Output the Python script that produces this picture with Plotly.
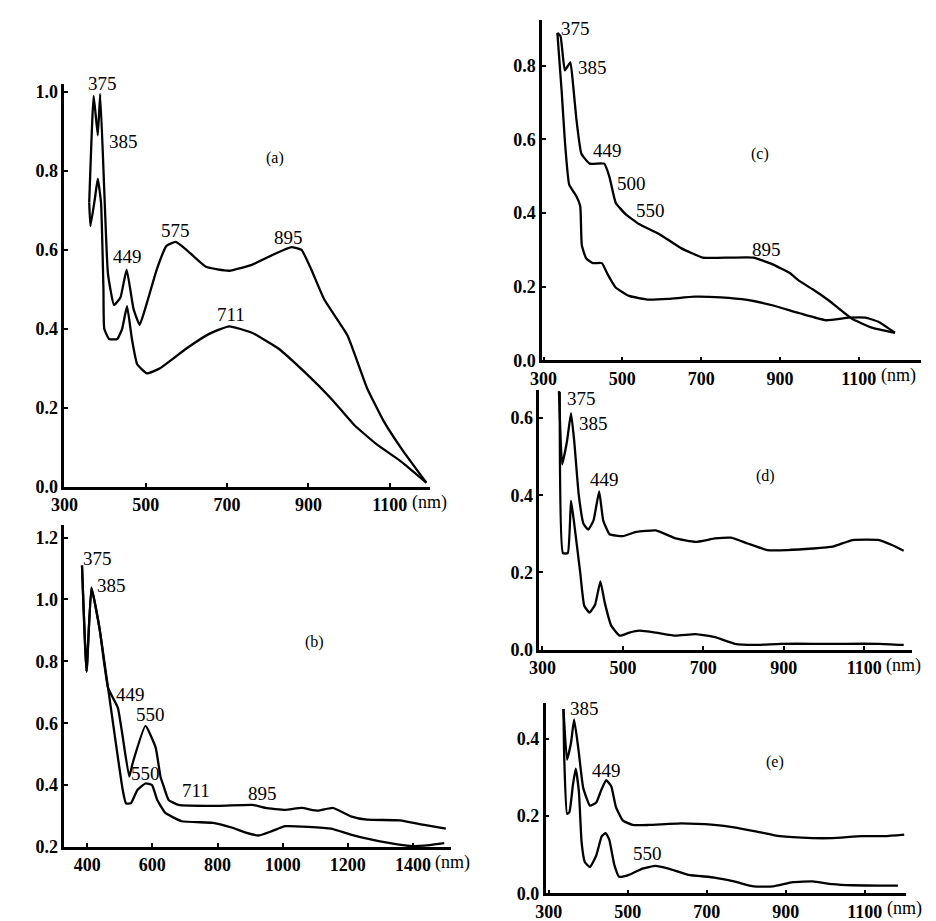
import plotly.graph_objects as go

# panel (a)
a_up_nm = [361, 372, 382, 388, 398, 407, 422, 438, 453, 470, 485, 503, 527, 551, 574, 600,
           648, 705, 761, 818, 858, 883, 907, 939, 996, 1044, 1085, 1133, 1190]
a_up_abs = [0.72, 0.99, 0.89, 0.995, 0.75, 0.54, 0.46, 0.48, 0.55, 0.45, 0.41, 0.466, 0.55, 0.61,
            0.62, 0.60, 0.557, 0.547, 0.562, 0.59, 0.607, 0.60, 0.55, 0.474, 0.383, 0.25, 0.166,
            0.09, 0.01]
a_lo_nm = [361, 364, 375, 382, 390, 396, 398, 410, 430, 442, 454, 466, 479, 503, 535, 600, 656,
           705, 761, 826, 891, 955, 1012, 1068, 1125, 1190]
a_lo_abs = [0.72, 0.66, 0.73, 0.78, 0.72, 0.50, 0.40, 0.374, 0.374, 0.40, 0.457, 0.374, 0.31,
            0.287, 0.30, 0.35, 0.387, 0.406, 0.39, 0.35, 0.29, 0.224, 0.157, 0.107, 0.066, 0.01]

# panel (b)
b_up_nm = [384, 398, 413, 438, 464, 494, 529, 539, 579, 610, 625, 635, 650, 680, 806, 907, 947,
           1008, 1058, 1108, 1154, 1209, 1259, 1360, 1430, 1501]
b_up_abs = [1.11, 0.767, 1.038, 0.905, 0.714, 0.65, 0.427, 0.469, 0.591, 0.522, 0.427, 0.395,
            0.352, 0.336, 0.333, 0.336, 0.326, 0.32, 0.326, 0.317, 0.326, 0.299, 0.288, 0.286,
            0.272, 0.259]
b_lo_nm = [384, 398, 413, 438, 464, 509, 519, 534, 554, 579, 599, 615, 640, 690, 786, 846, 887,
           927, 967, 1008, 1078, 1149, 1209, 1270, 1330, 1390, 1451, 1496]
b_lo_abs = [1.11, 0.767, 1.038, 0.905, 0.714, 0.384, 0.341, 0.341, 0.384, 0.405, 0.4, 0.352,
            0.31, 0.283, 0.278, 0.262, 0.246, 0.237, 0.251, 0.267, 0.265, 0.259, 0.24, 0.224,
            0.212, 0.203, 0.206, 0.212]

# panel (c)
c_up_nm = [335, 343, 354, 368, 375, 383, 396, 417, 454, 467, 483, 508, 542, 592, 650, 704, 775,
           833, 883, 925, 950, 983, 1025, 1083, 1133, 1192]
c_up_abs = [0.889, 0.88, 0.787, 0.809, 0.747, 0.658, 0.561, 0.534, 0.534, 0.499, 0.428, 0.397,
            0.370, 0.344, 0.304, 0.279, 0.279, 0.279, 0.260, 0.237, 0.215, 0.193, 0.162, 0.113,
            0.089, 0.075]
c_lo_nm = [335, 346, 354, 365, 383, 393, 397, 408, 425, 448, 463, 483, 517, 567, 617, 683, 750,
           817, 883, 950, 1017, 1075, 1117, 1150, 1192]
c_lo_abs = [0.889, 0.729, 0.596, 0.477, 0.446, 0.419, 0.313, 0.277, 0.264, 0.264, 0.233, 0.198,
            0.175, 0.165, 0.167, 0.173, 0.171, 0.164, 0.149, 0.128, 0.109, 0.116, 0.116, 0.105,
            0.075]

# panel (d)
d_up_nm = [341, 349, 361, 371, 379, 390, 402, 414, 427, 441, 451, 467, 500, 533, 582, 631, 680,
           729, 769, 810, 859, 908, 973, 1022, 1071, 1137, 1169, 1198]
d_up_abs = [0.67, 0.48, 0.54, 0.613, 0.54, 0.403, 0.326, 0.311, 0.335, 0.41, 0.335, 0.299, 0.294,
            0.305, 0.309, 0.288, 0.279, 0.288, 0.29, 0.275, 0.258, 0.258, 0.262, 0.267, 0.284,
            0.284, 0.271, 0.256]
d_lo_nm = [343, 351, 363, 371, 379, 394, 404, 417, 431, 444, 455, 471, 492, 516, 541, 582, 631,
           680, 729, 778, 827, 892, 973, 1055, 1137, 1198]
d_lo_abs = [0.668, 0.25, 0.25, 0.386, 0.326, 0.198, 0.113, 0.096, 0.117, 0.177, 0.121, 0.062,
            0.036, 0.044, 0.049, 0.044, 0.036, 0.04, 0.032, 0.015, 0.012, 0.015, 0.015, 0.015,
            0.015, 0.012]

# panel (e)
e_up_nm = [337, 346, 356, 364, 375, 387, 404, 420, 433, 445, 458, 470, 487, 512, 553, 636, 719,
           769, 827, 885, 968, 1018, 1093, 1151, 1200]
e_up_abs = [0.477, 0.346, 0.389, 0.45, 0.372, 0.273, 0.227, 0.235, 0.268, 0.293, 0.277, 0.223,
            0.189, 0.177, 0.177, 0.181, 0.177, 0.171, 0.16, 0.148, 0.143, 0.143, 0.148, 0.148,
            0.152]
e_lo_nm = [337, 339, 346, 352, 361, 368, 376, 383, 391, 404, 420, 434, 444, 453, 466, 478, 503,
           537, 570, 603, 653, 719, 769, 819, 868, 918, 968, 1018, 1068, 1134, 1184]
e_lo_abs = [0.477, 0.348, 0.206, 0.21, 0.281, 0.323, 0.264, 0.131, 0.081, 0.068, 0.098, 0.148,
            0.156, 0.139, 0.073, 0.043, 0.048, 0.064, 0.071, 0.064, 0.048, 0.041, 0.031, 0.018,
            0.018, 0.029, 0.031, 0.024, 0.021, 0.02, 0.02]

# peak labels: (text, nm, absorbance)
a_labels = [("375", 394, 1.02), ("385", 446, 0.874), ("449", 456, 0.584), ("575", 572, 0.65),
            ("895", 852, 0.632), ("711", 710, 0.437)]
b_labels = [("375", 433, 1.134), ("385", 474, 1.044), ("449", 534, 0.693), ("550", 594, 0.629),
            ("550", 579, 0.437), ("711", 735, 0.384), ("895", 937, 0.373)]
c_labels = [("375", 382, 0.902), ("385", 425, 0.796), ("449", 462, 0.57), ("500", 523, 0.481),
            ("550", 571, 0.406), ("895", 867, 0.3)]
d_labels = [("375", 398, 0.651), ("385", 427, 0.587), ("449", 455, 0.442)]
e_labels = [("385", 391, 0.479), ("449", 447, 0.318), ("550", 549, 0.102)]

serif = "Liberation Serif"

panels = [
    dict(up=(a_up_nm, a_up_abs), lo=(a_lo_nm, a_lo_abs), labels=a_labels,
         tag=("(a)", 818, 0.833), xr=[300, 1200], yr=[0, 1.02],
         xt=[300, 500, 700, 900, 1100], yt=[0, 0.2, 0.4, 0.6, 0.8, 1.0],
         xd=[0.046, 0.443], yd=[0.4756, 0.9186]),
    dict(up=(b_up_nm, b_up_abs), lo=(b_lo_nm, b_lo_abs), labels=b_labels,
         tag=("(b)", 1098, 0.863), xr=[330, 1516], yr=[0.2, 1.24],
         xt=[400, 600, 800, 1000, 1200, 1400], yt=[0.2, 0.4, 0.6, 0.8, 1.0, 1.2],
         xd=[0.046, 0.465], yd=[0.0793, 0.4332]),
    dict(up=(c_up_nm, c_up_abs), lo=(c_lo_nm, c_lo_abs), labels=c_labels,
         tag=("(c)", 850, 0.561), xr=[296, 1258], yr=[0, 0.924],
         xt=[300, 500, 700, 900, 1100], yt=[0, 0.2, 0.4, 0.6, 0.8],
         xd=[0.564, 0.975], yd=[0.6145, 0.9891]),
    dict(up=(d_up_nm, d_up_abs), lo=(d_lo_nm, d_lo_abs), labels=d_labels,
         tag=("(d)", 855, 0.45), xr=[292, 1218], yr=[0, 0.673],
         xt=[300, 500, 700, 900, 1100], yt=[0, 0.2, 0.4, 0.6],
         xd=[0.561, 0.965], yd=[0.2964, 0.582]),
    dict(up=(e_up_nm, e_up_abs), lo=(e_lo_nm, e_lo_abs), labels=e_labels,
         tag=("(e)", 873, 0.339), xr=[292, 1205], yr=[0, 0.493],
         xt=[300, 500, 700, 900, 1100], yt=[0, 0.2, 0.4],
         xd=[0.568, 0.959], yd=[0.0282, 0.2378]),
]

fig = go.Figure()
annotations = []
layout = {}

for i, p in enumerate(panels, start=1):
    sfx = "" if i == 1 else str(i)
    xa, ya = "x" + sfx, "y" + sfx
    for nm, ab in (p["up"], p["lo"]):
        fig.add_trace(go.Scatter(x=nm, y=ab, mode="lines", xaxis=xa, yaxis=ya,
                                 line=dict(color="black", width=2.3, shape="spline",
                                           smoothing=0.4),
                                 showlegend=False, hoverinfo="skip"))
    common = dict(showline=True, linecolor="black", linewidth=2.5, ticks="inside", ticklen=4,
                  tickwidth=1.5, tickcolor="black", showgrid=False, zeroline=False,
                  tickfont=dict(family=serif, size=18, color="black", weight="bold"),
                  fixedrange=True)
    layout["xaxis" + sfx] = dict(common, domain=p["xd"], range=p["xr"], anchor=ya,
                                 tickvals=p["xt"])
    layout["yaxis" + sfx] = dict(common, domain=p["yd"], range=p["yr"], anchor=xa,
                                 tickvals=p["yt"], tickformat=".1f")
    for txt, nm, ab in p["labels"]:
        annotations.append(dict(text=txt, x=nm, y=ab, xref=xa, yref=ya, showarrow=False,
                                font=dict(family=serif, size=19, color="black")))
    t, tx, ty = p["tag"]
    annotations.append(dict(text=t, x=tx, y=ty, xref=xa, yref=ya, showarrow=False,
                            font=dict(family=serif, size=16, color="black")))
    annotations.append(dict(text="(nm)", x=p["xt"][-1], y=0, xref=xa, yref=ya + " domain",
                            xanchor="left", yanchor="top", xshift=20, yshift=-3,
                            showarrow=False, font=dict(family=serif, size=18, color="black")))

fig.update_layout(width=936, height=921, margin=dict(l=0, r=0, t=0, b=0),
                  paper_bgcolor="white", plot_bgcolor="white", annotations=annotations,
                  **layout)

fig.write_html("out.html")
